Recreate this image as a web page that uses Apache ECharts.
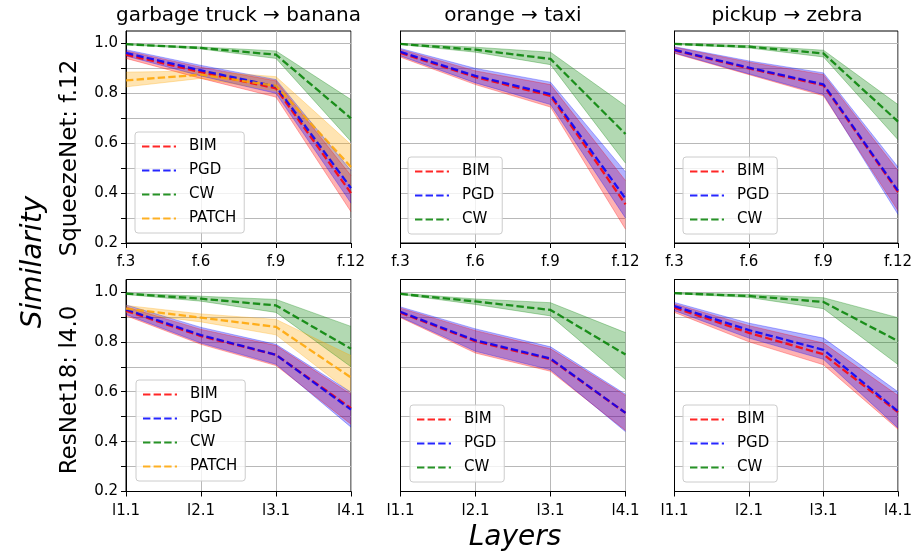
<!DOCTYPE html>
<html>
<head>
<meta charset="utf-8">
<script src="https://cdn.jsdelivr.net/npm/echarts@6/dist/echarts.min.js"></script>
<style>
html,body{margin:0;padding:0;background:#fff;}
#chart{width:915px;height:556px;}
</style>
</head>
<body>
<div id="chart"></div>
<script>
// ---------- categories / ticks ----------
const topCats = ['f.3', 'f.6', 'f.9', 'f.12'];
const botCats = ['l1.1', 'l2.1', 'l3.1', 'l4.1'];
const yTickValues = [0.2, 0.3, 0.4, 0.5, 0.6, 0.7, 0.8, 0.9, 1.0];
const yLabelValues = [0.2, 0.4, 0.6, 0.8, 1.0];
const colTitles = ['garbage truck \u2192 banana', 'orange \u2192 taxi', 'pickup \u2192 zebra'];
const rowLabels = ['SqueezeNet: f.12', 'ResNet18: l4.0'];

// ---------- data (mean, lower, upper) ----------
// SqueezeNet, garbage truck -> banana
const sqGarbageBIM   = { mean: [0.955, 0.885, 0.820, 0.400], lo: [0.940, 0.860, 0.785, 0.325], hi: [0.970, 0.905, 0.850, 0.470] };
const sqGarbagePGD   = { mean: [0.962, 0.892, 0.828, 0.420], lo: [0.950, 0.870, 0.800, 0.360], hi: [0.975, 0.912, 0.855, 0.490] };
const sqGarbageCW    = { mean: [0.997, 0.982, 0.955, 0.700], lo: [0.995, 0.978, 0.940, 0.607], hi: [0.999, 0.986, 0.970, 0.775] };
const sqGarbagePATCH = { mean: [0.852, 0.875, 0.830, 0.505], lo: [0.826, 0.860, 0.810, 0.430], hi: [0.885, 0.890, 0.867, 0.595] };
// SqueezeNet, orange -> taxi
const sqOrangeBIM = { mean: [0.962, 0.865, 0.790, 0.355], lo: [0.945, 0.835, 0.745, 0.255], hi: [0.976, 0.890, 0.835, 0.450] };
const sqOrangePGD = { mean: [0.966, 0.870, 0.797, 0.378], lo: [0.950, 0.842, 0.755, 0.300], hi: [0.980, 0.900, 0.845, 0.485] };
const sqOrangeCW  = { mean: [0.998, 0.975, 0.938, 0.637], lo: [0.996, 0.965, 0.915, 0.520], hi: [1.000, 0.985, 0.965, 0.750] };
// SqueezeNet, pickup -> zebra
const sqPickupBIM = { mean: [0.972, 0.900, 0.832, 0.405], lo: [0.960, 0.875, 0.790, 0.330], hi: [0.985, 0.925, 0.875, 0.490] };
const sqPickupPGD = { mean: [0.974, 0.903, 0.836, 0.410], lo: [0.962, 0.878, 0.795, 0.315], hi: [0.987, 0.930, 0.882, 0.505] };
const sqPickupCW  = { mean: [0.998, 0.987, 0.960, 0.687], lo: [0.996, 0.982, 0.946, 0.614], hi: [1.000, 0.992, 0.973, 0.755] };
// ResNet18, garbage truck -> banana
const rnGarbageBIM   = { mean: [0.925, 0.823, 0.748, 0.534], lo: [0.905, 0.790, 0.705, 0.470], hi: [0.940, 0.850, 0.785, 0.590] };
const rnGarbagePGD   = { mean: [0.930, 0.827, 0.748, 0.528], lo: [0.910, 0.795, 0.710, 0.458], hi: [0.948, 0.858, 0.790, 0.598] };
const rnGarbageCW    = { mean: [0.993, 0.973, 0.946, 0.772], lo: [0.990, 0.963, 0.918, 0.700], hi: [0.996, 0.983, 0.970, 0.862] };
const rnGarbagePATCH = { mean: [0.933, 0.897, 0.860, 0.657], lo: [0.917, 0.880, 0.828, 0.595], hi: [0.946, 0.912, 0.890, 0.745] };
// ResNet18, orange -> taxi
const rnOrangeBIM = { mean: [0.917, 0.802, 0.730, 0.515], lo: [0.897, 0.755, 0.682, 0.445], hi: [0.935, 0.845, 0.772, 0.585] };
const rnOrangePGD = { mean: [0.920, 0.806, 0.733, 0.515], lo: [0.900, 0.762, 0.688, 0.440], hi: [0.940, 0.852, 0.780, 0.590] };
const rnOrangeCW  = { mean: [0.992, 0.962, 0.928, 0.749], lo: [0.990, 0.950, 0.904, 0.649], hi: [0.995, 0.972, 0.957, 0.837] };
// ResNet18, pickup -> zebra
const rnPickupBIM = { mean: [0.937, 0.836, 0.750, 0.518], lo: [0.918, 0.800, 0.708, 0.450], hi: [0.952, 0.865, 0.795, 0.585] };
const rnPickupPGD = { mean: [0.943, 0.847, 0.768, 0.522], lo: [0.925, 0.815, 0.730, 0.455], hi: [0.958, 0.875, 0.815, 0.600] };
const rnPickupCW  = { mean: [0.995, 0.984, 0.960, 0.803], lo: [0.993, 0.978, 0.933, 0.709], hi: [0.997, 0.990, 0.977, 0.897] };

const colors = { BIM: '#ff0000', PGD: '#0000ff', CW: '#008000', PATCH: '#ffa500' };

const panels = [
  { cats: topCats, series: { BIM: sqGarbageBIM, PGD: sqGarbagePGD, CW: sqGarbageCW, PATCH: sqGarbagePATCH } },
  { cats: topCats, series: { BIM: sqOrangeBIM, PGD: sqOrangePGD, CW: sqOrangeCW } },
  { cats: topCats, series: { BIM: sqPickupBIM, PGD: sqPickupPGD, CW: sqPickupCW } },
  { cats: botCats, series: { BIM: rnGarbageBIM, PGD: rnGarbagePGD, CW: rnGarbageCW, PATCH: rnGarbagePATCH } },
  { cats: botCats, series: { BIM: rnOrangeBIM, PGD: rnOrangePGD, CW: rnOrangeCW } },
  { cats: botCats, series: { BIM: rnPickupBIM, PGD: rnPickupPGD, CW: rnPickupCW } }
];

// ---------- layout ----------
const colLeft = [126, 400.5, 674.5];
const plotW = 225;
const rowTop = [31, 279.5];
const plotH = 212;
const legendPos = [[135, 132], [408, 157], [683, 157], [136, 380], [410, 405], [683, 405]];
// dashed legend sample (3.2 dashes over 34px)
const dashIcon = 'path://M0,0H7.4V2H0Z M10.6,0H18V2H10.6Z M21.2,0H28.6V2H21.2Z M31.8,0H34V2H31.8Z';

const FONT = 'DejaVu Sans';
const grids = [], xAxes = [], yAxes = [], series = [], legends = [];

panels.forEach((p, i) => {
  const r = Math.floor(i / 3), c = i % 3;
  grids.push({ left: colLeft[c], top: rowTop[r], width: plotW, height: plotH,
    show: true, borderColor: '#000', borderWidth: 1, backgroundColor: 'transparent' });
  xAxes.push({
    type: 'category', gridIndex: i, data: p.cats, boundaryGap: false,
    axisLine: { show: true, lineStyle: { color: '#000', width: 1 } },
    axisTick: { show: true, length: 5, lineStyle: { color: '#000' } },
    axisLabel: { show: true, color: '#000', fontFamily: FONT, fontSize: 15, margin: 12 },
    splitLine: { show: true, lineStyle: { color: '#b8b8b8', width: 1 } }
  });
  yAxes.push({
    type: 'value', gridIndex: i, min: 0.2, max: 1.05, interval: 0.1,
    axisLine: { show: true, lineStyle: { color: '#000', width: 1 } },
    axisTick: { show: c === 0, length: 5, customValues: yTickValues, lineStyle: { color: '#000' } },
    axisLabel: { show: c === 0, customValues: yLabelValues, color: '#000', fontFamily: FONT, fontSize: 15, margin: 8,
      formatter: v => v.toFixed(1) },
    splitLine: { show: true, lineStyle: { color: '#b8b8b8', width: 1 } }
  });
  const names = Object.keys(p.series);
  // bands
  names.forEach(m => {
    const d = p.series[m];
    const stackId = 'band' + i + m;
    series.push({
      name: m + ' lower', type: 'line', xAxisIndex: i, yAxisIndex: i, stack: stackId,
      data: d.lo, symbol: 'none', silent: true, z: 1,
      lineStyle: { color: colors[m], width: 1, opacity: 0.3 }
    });
    series.push({
      name: m + ' band', type: 'line', xAxisIndex: i, yAxisIndex: i, stack: stackId,
      data: d.hi.map((h, k) => +(h - d.lo[k]).toFixed(4)), symbol: 'none', silent: true, z: 1,
      lineStyle: { color: colors[m], width: 1, opacity: 0.3 },
      areaStyle: { color: colors[m], opacity: 0.3 }
    });
  });
  // mean lines
  names.forEach(m => {
    const d = p.series[m];
    series.push({
      name: m, type: 'line', xAxisIndex: i, yAxisIndex: i, data: d.mean,
      symbol: 'none', z: 3, color: colors[m],
      itemStyle: { color: colors[m], opacity: 0.8 },
      lineStyle: { color: colors[m], width: 2.3, type: [7.4, 3.2], opacity: 0.85 }
    });
  });
  legends.push({
    orient: 'vertical', left: legendPos[i][0], top: legendPos[i][1],
    data: names.map(n => ({ name: n, icon: dashIcon })),
    padding: [7, 8, 7, 7], itemGap: 9, itemWidth: 34, itemHeight: 2.2, symbolKeepAspect: false,
    backgroundColor: 'rgba(255,255,255,0.8)', borderColor: '#cccccc', borderWidth: 1, borderRadius: 3,
    selectedMode: false,
    itemStyle: { opacity: 0.85 },
    textStyle: { color: '#000', fontFamily: FONT, fontSize: 15, lineHeight: 15, padding: [0, 0, 0, 8] }
  });
});

const graphics = [];
const txt = (x, y, text, font, rot) => ({ type: 'text', x: x, y: y, rotation: rot || 0,
  style: { text: text, font: font, fill: '#000', textAlign: 'center', textVerticalAlign: 'middle', align: 'center', verticalAlign: 'middle' } });
colTitles.forEach((t, c) => graphics.push(txt(colLeft[c] + plotW / 2, 16, t, '20px "DejaVu Sans"')));
graphics.push(txt(70, 158, rowLabels[0], '23px "DejaVu Sans"', Math.PI / 2));
graphics.push(txt(70, 390, rowLabels[1], '23px "DejaVu Sans"', Math.PI / 2));
graphics.push(txt(34, 262, 'Similarity', 'italic 28px "DejaVu Sans"', Math.PI / 2));
graphics.push(txt(515, 538, 'Layers', 'italic 28px "DejaVu Sans"'));

const chart = echarts.init(document.getElementById('chart'), null, { renderer: 'canvas' });
chart.setOption({
  animation: false,
  backgroundColor: '#fff',
  grid: grids, xAxis: xAxes, yAxis: yAxes, series: series, legend: legends,
  graphic: graphics
});
</script>
</body>
</html>
